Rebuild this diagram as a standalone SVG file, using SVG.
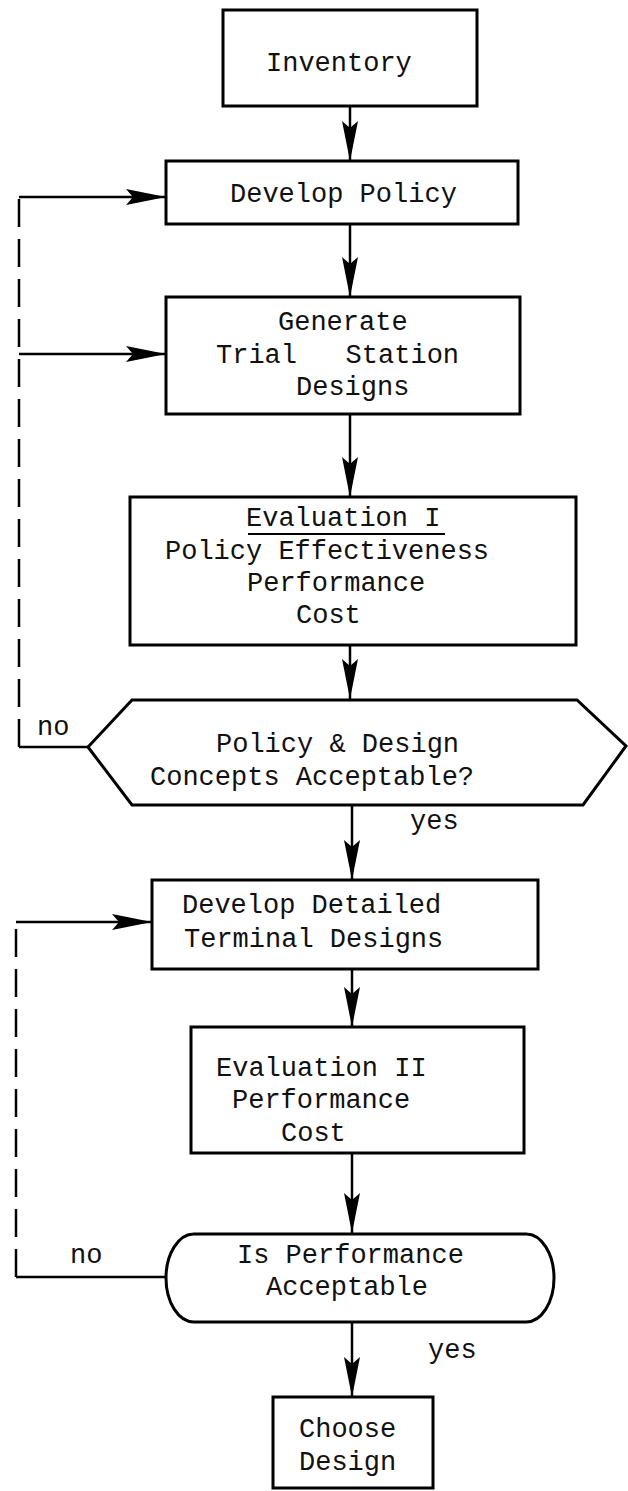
<svg xmlns="http://www.w3.org/2000/svg" width="628" height="1491" viewBox="0 0 628 1491">
<style>
.box{fill:#fff;stroke:#000;stroke-width:3;stroke-linejoin:miter}
.ln{fill:none;stroke:#000;stroke-width:2.5}
.dash{fill:none;stroke:#000;stroke-width:2.5;stroke-dasharray:28 12}
text{font-family:"Liberation Mono","DejaVu Sans Mono",monospace;font-size:27px;fill:#111}
</style>
<defs>
<marker id="ah" markerUnits="userSpaceOnUse" viewBox="0 0 40 16" markerWidth="40" markerHeight="16" refX="40" refY="8" orient="auto">
<path d="M0,0 L40,8 L0,16 L7,8 Z" fill="#000"/>
</marker>
</defs>
<rect width="628" height="1491" fill="#fff"/>
<g id="connectors">
<path class="ln" d="M350,106 V161" marker-end="url(#ah)"/>
<path class="ln" d="M350,224 V297" marker-end="url(#ah)"/>
<path class="ln" d="M350,414 V497" marker-end="url(#ah)"/>
<path class="ln" d="M350,645 V699" marker-end="url(#ah)"/>
<path class="ln" d="M352,805 V880" marker-end="url(#ah)"/>
<path class="ln" d="M352,969 V1027" marker-end="url(#ah)"/>
<path class="ln" d="M352,1153 V1233" marker-end="url(#ah)"/>
<path class="ln" d="M352,1323 V1397" marker-end="url(#ah)"/>
<path class="ln" d="M88,747 H19"/>
<path class="dash" d="M19,747 V197"/>
<path class="ln" d="M19,197 H166" marker-end="url(#ah)"/>
<path class="ln" d="M19,354 H166" marker-end="url(#ah)"/>
<path class="ln" d="M166,1277 H16"/>
<path class="dash" d="M16,1277 V922"/>
<path class="ln" d="M16,922 H152" marker-end="url(#ah)"/>
<text x="37" y="735">no</text>
<text x="410" y="829">yes</text>
<text x="70" y="1263">no</text>
<text x="428" y="1358">yes</text>
</g>
<g id="inventory">
<rect class="box" x="223" y="10" width="254" height="96"/>
<text x="266" y="71">Inventory</text>
</g>
<g id="develop-policy">
<rect class="box" x="166" y="161" width="352" height="63"/>
<text x="230" y="202">Develop Policy</text>
</g>
<g id="generate">
<rect class="box" x="166" y="297" width="354" height="117"/>
<text x="278" y="330">Generate</text>
<text x="216" y="363" xml:space="preserve">Trial   Station</text>
<text x="296" y="395">Designs</text>
</g>
<g id="evaluation-1">
<rect class="box" x="130" y="497" width="446" height="148"/>
<text x="246" y="526">Evaluation I</text>
<line x1="248" y1="534" x2="445" y2="534" stroke="#000" stroke-width="2"/>
<text x="165" y="559">Policy Effectiveness</text>
<text x="247" y="591">Performance</text>
<text x="296" y="623">Cost</text>
</g>
<g id="decision-1">
<polygon class="box" points="132,700 577,700 626,746 583,805 132,805 88,747"/>
<text x="216" y="752">Policy &amp; Design</text>
<text x="150" y="785">Concepts Acceptable?</text>
</g>
<g id="develop-detailed">
<rect class="box" x="152" y="880" width="386" height="89"/>
<text x="182" y="913">Develop Detailed</text>
<text x="184" y="947">Terminal Designs</text>
</g>
<g id="evaluation-2">
<rect class="box" x="191" y="1027" width="333" height="126"/>
<text x="216" y="1076">Evaluation II</text>
<text x="232" y="1108">Performance</text>
<text x="281" y="1141">Cost</text>
</g>
<g id="decision-2">
<path class="box" d="M194,1234 H526 A28,44 0 0 1 526,1322 H194 A28,44 0 0 1 194,1234 Z"/>
<text x="237" y="1263">Is Performance</text>
<text x="266" y="1295">Acceptable</text>
</g>
<g id="choose-design">
<rect class="box" x="273" y="1397" width="160" height="91"/>
<text x="299" y="1437">Choose</text>
<text x="299" y="1470">Design</text>
</g>
</svg>
